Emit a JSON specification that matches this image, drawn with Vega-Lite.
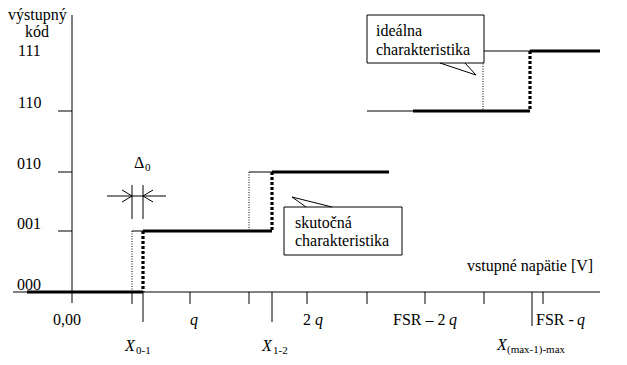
{
  "$schema": "https://vega.github.io/schema/vega-lite/v6.json",
  "width": 627,
  "height": 365,
  "autosize": {"type": "fit", "contains": "padding"},
  "padding": 0,
  "background": "white",
  "view": {"stroke": null},
  "datasets": {
    "segs": [
      {"x": 72, "y": 15, "x2": 72, "y2": 303, "s": "thin"},
      {"x": 13, "y": 292, "x2": 600, "y2": 292, "s": "thin"},
      {"x": 58, "y": 111, "x2": 72, "y2": 111, "s": "thin"},
      {"x": 58, "y": 172, "x2": 72, "y2": 172, "s": "thin"},
      {"x": 58, "y": 231, "x2": 72, "y2": 231, "s": "thin"},
      {"x": 132, "y": 292, "x2": 132, "y2": 304, "s": "thin"},
      {"x": 190, "y": 292, "x2": 190, "y2": 304, "s": "thin"},
      {"x": 249, "y": 292, "x2": 249, "y2": 304, "s": "thin"},
      {"x": 307, "y": 292, "x2": 307, "y2": 304, "s": "thin"},
      {"x": 367, "y": 292, "x2": 367, "y2": 304, "s": "thin"},
      {"x": 425, "y": 292, "x2": 425, "y2": 304, "s": "thin"},
      {"x": 484, "y": 292, "x2": 484, "y2": 304, "s": "thin"},
      {"x": 543, "y": 292, "x2": 543, "y2": 304, "s": "thin"},
      {"x": 143, "y": 292, "x2": 143, "y2": 322, "s": "thin"},
      {"x": 272, "y": 292, "x2": 272, "y2": 322, "s": "thin"},
      {"x": 532, "y": 292, "x2": 532, "y2": 326, "s": "thin"},
      {"x": 132, "y": 231, "x2": 143, "y2": 231, "s": "thin"},
      {"x": 249, "y": 172, "x2": 272, "y2": 172, "s": "thin"},
      {"x": 367, "y": 111, "x2": 413, "y2": 111, "s": "thin"},
      {"x": 483, "y": 51, "x2": 530, "y2": 51, "s": "thin"},
      {"x": 132, "y": 231, "x2": 132, "y2": 292, "s": "thindot"},
      {"x": 249, "y": 172, "x2": 249, "y2": 231, "s": "thindot"},
      {"x": 483, "y": 51, "x2": 483, "y2": 111, "s": "thindot"},
      {"x": 143, "y": 231, "x2": 143, "y2": 292, "s": "thickdot"},
      {"x": 272, "y": 172, "x2": 272, "y2": 231, "s": "thickdot"},
      {"x": 530, "y": 51, "x2": 530, "y2": 111, "s": "thickdot"},
      {"x": 27, "y": 292, "x2": 143, "y2": 292, "s": "thick"},
      {"x": 143, "y": 231, "x2": 272, "y2": 231, "s": "thick"},
      {"x": 272, "y": 172, "x2": 389, "y2": 172, "s": "thick"},
      {"x": 413, "y": 111, "x2": 530, "y2": 111, "s": "thick"},
      {"x": 530, "y": 51, "x2": 600, "y2": 51, "s": "thick"},
      {"x": 132, "y": 185, "x2": 132, "y2": 219, "s": "thin"},
      {"x": 143, "y": 185, "x2": 143, "y2": 219, "s": "thin"},
      {"x": 107, "y": 196, "x2": 166, "y2": 196, "s": "thin"},
      {"x": 122, "y": 190, "x2": 132, "y2": 196, "s": "thin"},
      {"x": 122, "y": 202, "x2": 132, "y2": 196, "s": "thin"},
      {"x": 143, "y": 196, "x2": 153, "y2": 190, "s": "thin"},
      {"x": 143, "y": 196, "x2": 153, "y2": 202, "s": "thin"}
    ],
    "boxes": [
      {"x": 367, "y": 15, "x2": 484, "y2": 63},
      {"x": 284, "y": 207, "x2": 402, "y2": 255}
    ],
    "tails": [
      {"x": 440, "y": 63, "x2": 476, "y2": 75},
      {"x": 465, "y": 63, "x2": 476, "y2": 75},
      {"x": 292, "y": 197, "x2": 306, "y2": 207},
      {"x": 292, "y": 197, "x2": 332, "y2": 207}
    ],
    "texts": [
      {"x": 8, "y": 20, "t": "výstupný"},
      {"x": 25, "y": 37, "t": "kód"},
      {"x": 18, "y": 56, "t": "111"},
      {"x": 18, "y": 108, "t": "110"},
      {"x": 17, "y": 169, "t": "010"},
      {"x": 17, "y": 229, "t": "001"},
      {"x": 17, "y": 290, "t": "000"},
      {"x": 53, "y": 325, "t": "0,00"},
      {"x": 303, "y": 325, "t": "2"},
      {"x": 393, "y": 325, "t": "FSR – 2"},
      {"x": 536, "y": 325, "t": "FSR -"},
      {"x": 467, "y": 271, "t": "vstupné napätie [V]"},
      {"x": 376, "y": 36, "t": "ideálna"},
      {"x": 376, "y": 55, "t": "charakteristika"},
      {"x": 295, "y": 228, "t": "skutočná"},
      {"x": 295, "y": 246, "t": "charakteristika"},
      {"x": 134, "y": 168, "t": "Δ"}
    ],
    "italics": [
      {"x": 190, "y": 325, "t": "q"},
      {"x": 315, "y": 325, "t": "q"},
      {"x": 449, "y": 325, "t": "q"},
      {"x": 577, "y": 325, "t": "q"},
      {"x": 125, "y": 351, "t": "X"},
      {"x": 262, "y": 351, "t": "X"},
      {"x": 497, "y": 350, "t": "X"}
    ],
    "subs": [
      {"x": 136, "y": 354, "t": "0-1"},
      {"x": 273, "y": 354, "t": "1-2"},
      {"x": 507, "y": 353, "t": "(max-1)-max"},
      {"x": 145, "y": 171, "t": "0"}
    ]
  },
  "layer": [
    {
      "data": {"name": "segs"},
      "transform": [{"filter": "datum.s === 'thin'"}],
      "mark": {"type": "rule", "color": "black", "strokeWidth": 1, "strokeCap": "butt"},
      "encoding": {
        "x": {"field": "x", "type": "quantitative", "scale": {"domain": [0, 627], "nice": false, "zero": false}, "axis": null},
        "y": {"field": "y", "type": "quantitative", "scale": {"domain": [0, 365], "nice": false, "zero": false, "reverse": true}, "axis": null},
        "x2": {"field": "x2"},
        "y2": {"field": "y2"}
      }
    },
    {
      "data": {"name": "segs"},
      "transform": [{"filter": "datum.s === 'thindot'"}],
      "mark": {"type": "rule", "color": "black", "strokeWidth": 1, "strokeDash": [1, 1.5], "strokeCap": "butt"},
      "encoding": {
        "x": {"field": "x", "type": "quantitative", "scale": {"domain": [0, 627], "nice": false, "zero": false}, "axis": null},
        "y": {"field": "y", "type": "quantitative", "scale": {"domain": [0, 365], "nice": false, "zero": false, "reverse": true}, "axis": null},
        "x2": {"field": "x2"},
        "y2": {"field": "y2"}
      }
    },
    {
      "data": {"name": "segs"},
      "transform": [{"filter": "datum.s === 'thickdot'"}],
      "mark": {"type": "rule", "color": "black", "strokeWidth": 3.2, "strokeDash": [3, 2], "strokeCap": "butt"},
      "encoding": {
        "x": {"field": "x", "type": "quantitative", "scale": {"domain": [0, 627], "nice": false, "zero": false}, "axis": null},
        "y": {"field": "y", "type": "quantitative", "scale": {"domain": [0, 365], "nice": false, "zero": false, "reverse": true}, "axis": null},
        "x2": {"field": "x2"},
        "y2": {"field": "y2"}
      }
    },
    {
      "data": {"name": "segs"},
      "transform": [{"filter": "datum.s === 'thick'"}],
      "mark": {"type": "rule", "color": "black", "strokeWidth": 3.2, "strokeCap": "butt"},
      "encoding": {
        "x": {"field": "x", "type": "quantitative", "scale": {"domain": [0, 627], "nice": false, "zero": false}, "axis": null},
        "y": {"field": "y", "type": "quantitative", "scale": {"domain": [0, 365], "nice": false, "zero": false, "reverse": true}, "axis": null},
        "x2": {"field": "x2"},
        "y2": {"field": "y2"}
      }
    },
    {
      "data": {"name": "boxes"},
      "mark": {"type": "rect", "fill": "white", "stroke": "black", "strokeWidth": 1},
      "encoding": {
        "x": {"field": "x", "type": "quantitative", "scale": {"domain": [0, 627], "nice": false, "zero": false}, "axis": null},
        "y": {"field": "y", "type": "quantitative", "scale": {"domain": [0, 365], "nice": false, "zero": false, "reverse": true}, "axis": null},
        "x2": {"field": "x2"},
        "y2": {"field": "y2"}
      }
    },
    {
      "data": {"name": "tails"},
      "mark": {"type": "rule", "color": "black", "strokeWidth": 1},
      "encoding": {
        "x": {"field": "x", "type": "quantitative", "scale": {"domain": [0, 627], "nice": false, "zero": false}, "axis": null},
        "y": {"field": "y", "type": "quantitative", "scale": {"domain": [0, 365], "nice": false, "zero": false, "reverse": true}, "axis": null},
        "x2": {"field": "x2"},
        "y2": {"field": "y2"}
      }
    },
    {
      "data": {"name": "texts"},
      "mark": {"type": "text", "font": "Liberation Serif", "fontSize": 16, "color": "black", "align": "left", "baseline": "alphabetic"},
      "encoding": {
        "x": {"field": "x", "type": "quantitative", "scale": {"domain": [0, 627], "nice": false, "zero": false}, "axis": null},
        "y": {"field": "y", "type": "quantitative", "scale": {"domain": [0, 365], "nice": false, "zero": false, "reverse": true}, "axis": null},
        "text": {"field": "t"}
      }
    },
    {
      "data": {"name": "italics"},
      "mark": {"type": "text", "font": "Liberation Serif", "fontSize": 16, "fontStyle": "italic", "color": "black", "align": "left", "baseline": "alphabetic"},
      "encoding": {
        "x": {"field": "x", "type": "quantitative", "scale": {"domain": [0, 627], "nice": false, "zero": false}, "axis": null},
        "y": {"field": "y", "type": "quantitative", "scale": {"domain": [0, 365], "nice": false, "zero": false, "reverse": true}, "axis": null},
        "text": {"field": "t"}
      }
    },
    {
      "data": {"name": "subs"},
      "mark": {"type": "text", "font": "Liberation Serif", "fontSize": 11, "color": "black", "align": "left", "baseline": "alphabetic"},
      "encoding": {
        "x": {"field": "x", "type": "quantitative", "scale": {"domain": [0, 627], "nice": false, "zero": false}, "axis": null},
        "y": {"field": "y", "type": "quantitative", "scale": {"domain": [0, 365], "nice": false, "zero": false, "reverse": true}, "axis": null},
        "text": {"field": "t"}
      }
    }
  ]
}
